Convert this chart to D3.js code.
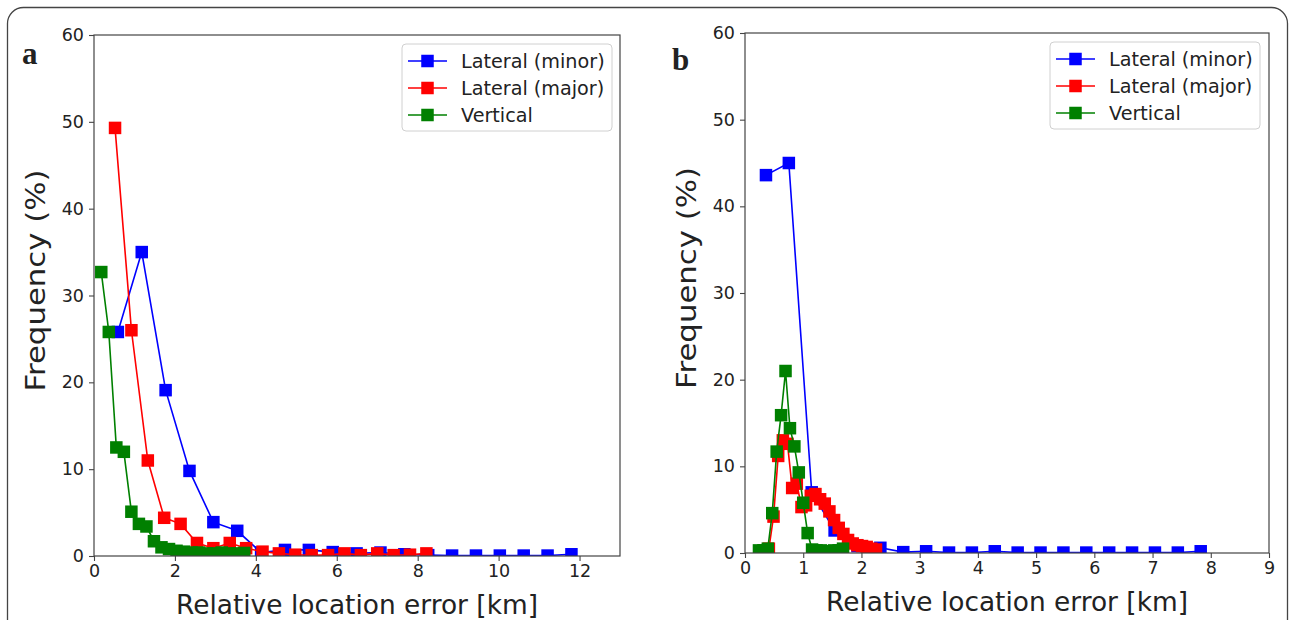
<!DOCTYPE html>
<html><head><meta charset="utf-8">
<script src="https://cdn.jsdelivr.net/npm/d3@7"></script>
<style>body{margin:0;background:#fff}svg{display:block}text{font-family:"DejaVu Sans",sans-serif;fill:#222}</style>
</head><body>
<svg id="c" width="1290" height="620"></svg>
<script>
// ---- Panel a data ----
const aMinorX = [0.59,1.18,1.77,2.36,2.95,3.54,4.13,4.72,5.31,5.90,6.49,7.08,7.67,8.26,8.85,9.44,10.03,10.62,11.21,11.80];
const aMinorY = [25.8,35.0,19.1,9.8,3.9,2.9,0.4,0.7,0.7,0.45,0.3,0.4,0.2,0.1,0.05,0.05,0.05,0.05,0.05,0.2];
const aMajorX = [0.52,0.925,1.33,1.735,2.14,2.545,2.95,3.355,3.76,4.165,4.57,4.975,5.38,5.785,6.19,6.595,7.0,7.405,7.81,8.215];
const aMajorY = [49.3,26.0,11.0,4.4,3.7,1.5,0.9,1.5,0.9,0.5,0.3,0.15,0.1,0.1,0.3,0.1,0.3,0.1,0.15,0.3];
const aVertX = [0.18,0.366,0.552,0.738,0.924,1.11,1.296,1.482,1.668,1.854,2.04,2.226,2.412,2.598,2.784,2.97,3.156,3.342,3.528,3.714];
const aVertY = [32.7,25.8,12.5,12.0,5.1,3.7,3.4,1.7,1.0,0.8,0.6,0.5,0.4,0.4,0.3,0.3,0.4,0.3,0.3,0.35];
// ---- Panel b data ----
const bMinorX = [0.36,0.753,1.146,1.539,1.932,2.325,2.718,3.111,3.504,3.897,4.29,4.683,5.076,5.469,5.862,6.255,6.648,7.041,7.434,7.827];
const bMinorY = [43.6,45.0,7.0,2.6,0.8,0.6,0.1,0.2,0.05,0.05,0.2,0.05,0.05,0.05,0.05,0.05,0.05,0.05,0.05,0.2];
const bMajorX = [0.33,0.41,0.49,0.57,0.65,0.73,0.81,0.89,0.97,1.05,1.13,1.21,1.29,1.37,1.45,1.53,1.61,1.69,1.77,1.85,1.93,2.01,2.09,2.17,2.25];
const bMajorY = [0.3,0.5,4.2,11.2,13.0,12.6,7.5,8.0,5.3,5.5,6.6,6.8,6.2,5.7,4.8,3.8,2.9,2.2,1.5,1.1,0.9,0.8,0.7,0.5,0.4];
const bVertX = [0.24,0.316,0.392,0.468,0.544,0.62,0.696,0.772,0.848,0.924,1.0,1.076,1.152,1.228,1.304,1.38,1.456,1.532,1.608,1.684];
const bVertY = [0.3,0.3,0.5,4.6,11.7,15.9,21.0,14.4,12.3,9.3,5.8,2.3,0.4,0.3,0.3,0.2,0.2,0.3,0.3,0.5];

const seriesNames = ["Lateral (minor)","Lateral (major)","Vertical"];
const seriesColors = ["#0000ff","#ff0000","#008000"];
const yTicks = [0,10,20,30,40,50,60];
const aXTicks = [0,2,4,6,8,10,12];
const bXTicks = [0,1,2,3,4,5,6,7,8,9];
const xLabel = "Relative location error [km]";
const yLabel = "Frequency (%)";

const svg = d3.select("#c");
// outer rounded frame
svg.append("rect").attr("x",7.5).attr("y",7.5).attr("width",1280).attr("height",640)
  .attr("rx",16).attr("fill","none").attr("stroke","#444").attr("stroke-width",1.3);

function panel(opt){
  const {L,R,T,B,xmax,xticks,series,letter,letterPos,legend,id} = opt;
  const x = d3.scaleLinear().domain([0,xmax]).range([L,R]);
  const y = d3.scaleLinear().domain([0,60]).range([B,T]);
  const g = svg.append("g");
  g.append("clipPath").attr("id",id).append("rect").attr("x",L).attr("y",T).attr("width",R-L).attr("height",B-T);
  const plot = g.append("g").attr("clip-path",`url(#${id})`);
  const line = d3.line().x(d=>x(d[0])).y(d=>y(d[1]));
  const ms = 12.5;
  series.forEach((s,i)=>{
    const pts = s.x.map((v,j)=>[v,s.y[j]]);
    plot.append("path").attr("d",line(pts)).attr("fill","none").attr("stroke",seriesColors[i]).attr("stroke-width",1.6);
    plot.selectAll(null).data(pts).enter().append("rect")
      .attr("x",d=>x(d[0])-ms/2).attr("y",d=>y(d[1])-ms/2).attr("width",ms).attr("height",ms)
      .attr("fill",seriesColors[i]);
  });
  // axes
  const ax = g.append("g").attr("transform",`translate(0,${B})`).call(d3.axisBottom(x).tickValues(xticks).tickSize(5).tickPadding(4).tickFormat(d3.format("d")));
  const ay = g.append("g").attr("transform",`translate(${L},0)`).call(d3.axisLeft(y).tickValues(yTicks).tickSize(5).tickPadding(5));
  [ax,ay].forEach(a=>{a.select(".domain").remove();a.selectAll("line").attr("stroke","#444").attr("stroke-width",1.1);
    a.selectAll("text").attr("font-size",17.5).attr("fill","#222").style("font-family","DejaVu Sans");});
  g.append("rect").attr("x",L).attr("y",T).attr("width",R-L).attr("height",B-T).attr("fill","none").attr("stroke","#444").attr("stroke-width",1.2);
  g.append("text").attr("x",(L+R)/2).attr("y",B+58).attr("text-anchor","middle").attr("font-size",26.5)
    .attr("textLength",362).attr("lengthAdjust","spacingAndGlyphs").text(xLabel);
  g.append("text").attr("transform",`translate(${L-49},${(T+B)/2 - 15}) rotate(-90)`).attr("text-anchor","middle").attr("font-size",27)
    .attr("textLength",222).attr("lengthAdjust","spacingAndGlyphs").text(yLabel);
  g.append("text").attr("x",letterPos[0]).attr("y",letterPos[1]).attr("font-size",31).attr("font-weight","bold")
    .style("font-family","Liberation Serif, serif").attr("fill","#111").text(letter);
  // legend
  const lg = g.append("g").attr("transform",`translate(${legend[0]},${legend[1]})`);
  lg.append("rect").attr("x",0).attr("y",0).attr("width",210).attr("height",87).attr("rx",4)
    .attr("fill","#fff").attr("fill-opacity",0.8).attr("stroke","#d0d0d0").attr("stroke-width",1);
  seriesNames.forEach((n,i)=>{
    const yy = 17 + i*27;
    lg.append("line").attr("x1",6).attr("x2",45).attr("y1",yy).attr("y2",yy).attr("stroke",seriesColors[i]).attr("stroke-width",1.6);
    lg.append("rect").attr("x",25.5-ms/2).attr("y",yy-ms/2).attr("width",ms).attr("height",ms).attr("fill",seriesColors[i]);
    lg.append("text").attr("x",59).attr("y",yy+7).attr("font-size",19.2).text(n);
  });
}

panel({id:"ca",L:94,R:620,T:35,B:556,xmax:13,xticks:aXTicks,letter:"a",letterPos:[22,64],legend:[402,44],
  series:[{x:aMinorX,y:aMinorY},{x:aMajorX,y:aMajorY},{x:aVertX,y:aVertY}]});
panel({id:"cb",L:745,R:1269,T:33,B:553,xmax:9,xticks:bXTicks,letter:"b",letterPos:[672,70],legend:[1050,42],
  series:[{x:bMinorX,y:bMinorY},{x:bMajorX,y:bMajorY},{x:bVertX,y:bVertY}]});
</script>
</body></html>
